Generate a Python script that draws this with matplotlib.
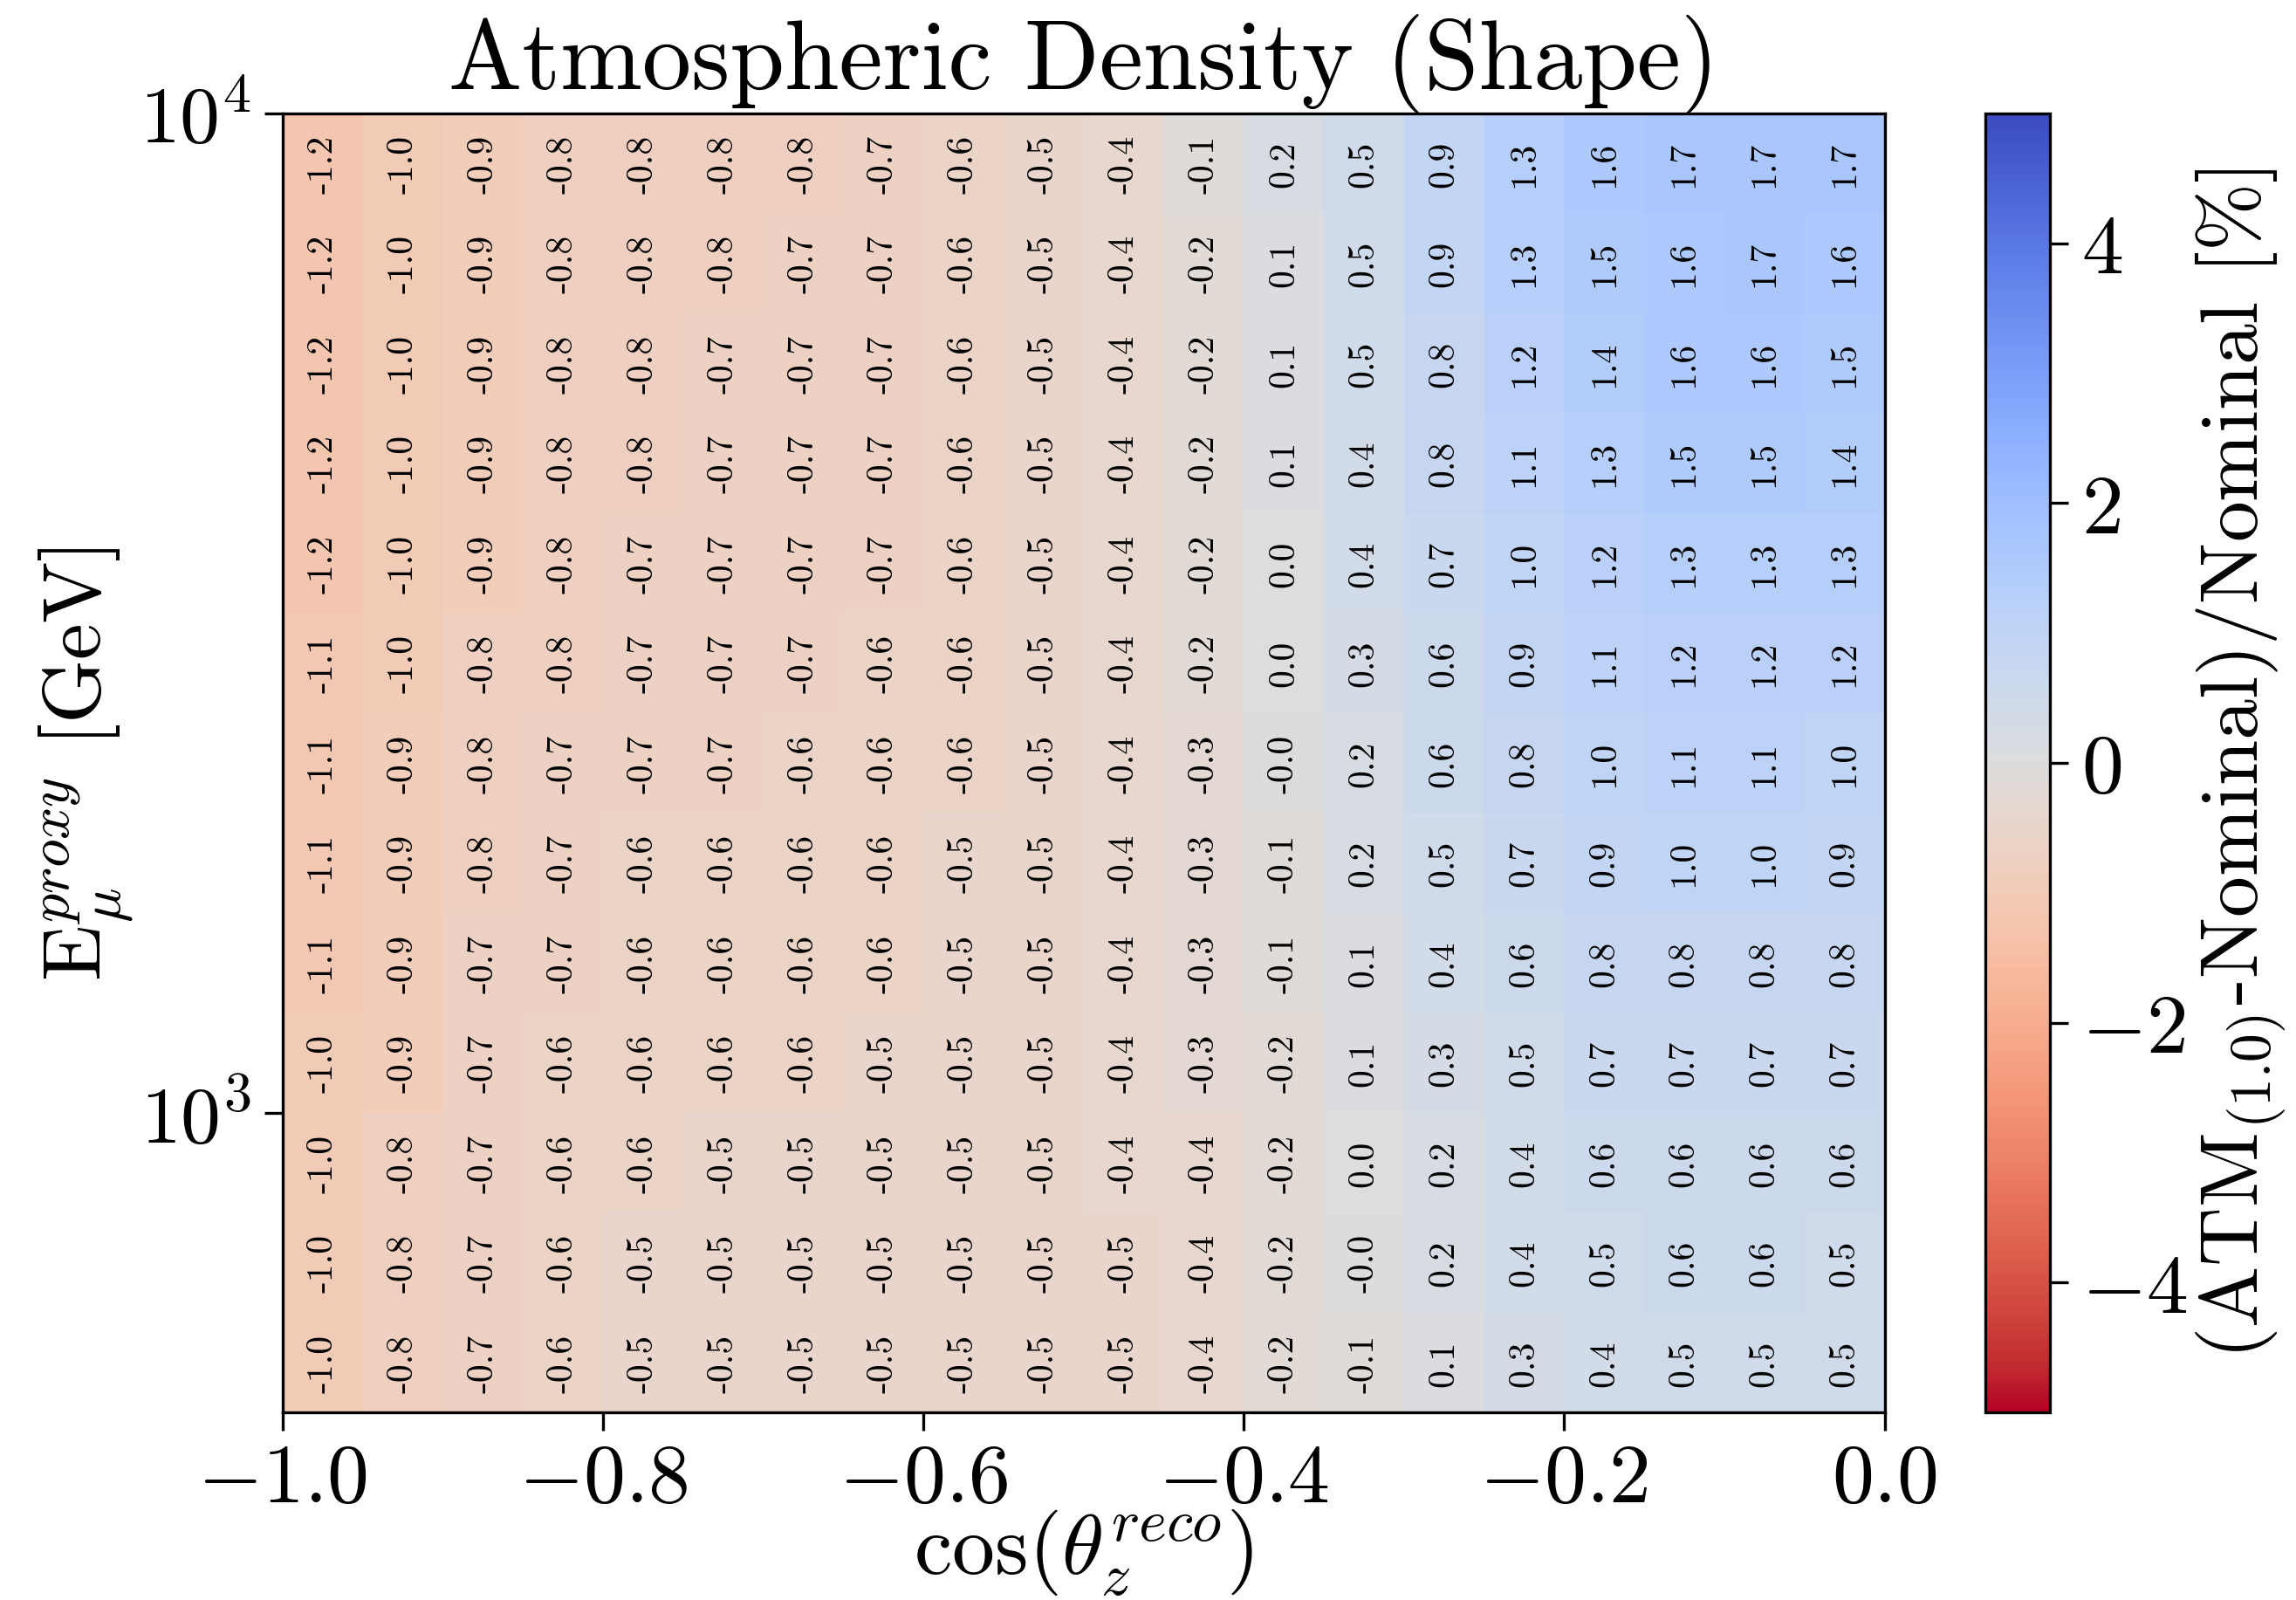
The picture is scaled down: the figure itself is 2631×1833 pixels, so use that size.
import numpy as np
import matplotlib
matplotlib.use("Agg")
import matplotlib.pyplot as plt
from matplotlib.ticker import LogLocator, NullLocator

plt.rcParams['font.family'] = 'serif'
plt.rcParams['font.serif'] = ['cmr10']
plt.rcParams['mathtext.fontset'] = 'cm'
plt.rcParams['axes.formatter.use_mathtext'] = True
plt.rcParams['axes.unicode_minus'] = True

# cos(theta_z^reco) bin edges and log10(E) bin edges
cos_edges = np.linspace(-1.0, 0.0, 21)
logE_edges = np.linspace(2.7, 4.0, 14)

# values in %, rows listed from highest energy (top) to lowest energy (bottom)
row_01 = [-1.2, -1.0, -0.9, -0.8, -0.8, -0.8, -0.8, -0.7, -0.6, -0.5, -0.4, -0.1, 0.2, 0.5, 0.9, 1.3, 1.6, 1.7, 1.7, 1.7]
row_02 = [-1.2, -1.0, -0.9, -0.8, -0.8, -0.8, -0.7, -0.7, -0.6, -0.5, -0.4, -0.2, 0.1, 0.5, 0.9, 1.3, 1.5, 1.6, 1.7, 1.6]
row_03 = [-1.2, -1.0, -0.9, -0.8, -0.8, -0.7, -0.7, -0.7, -0.6, -0.5, -0.4, -0.2, 0.1, 0.5, 0.8, 1.2, 1.4, 1.6, 1.6, 1.5]
row_04 = [-1.2, -1.0, -0.9, -0.8, -0.8, -0.7, -0.7, -0.7, -0.6, -0.5, -0.4, -0.2, 0.1, 0.4, 0.8, 1.1, 1.3, 1.5, 1.5, 1.4]
row_05 = [-1.2, -1.0, -0.9, -0.8, -0.7, -0.7, -0.7, -0.7, -0.6, -0.5, -0.4, -0.2, 0.0, 0.4, 0.7, 1.0, 1.2, 1.3, 1.3, 1.3]
row_06 = [-1.1, -1.0, -0.8, -0.8, -0.7, -0.7, -0.7, -0.6, -0.6, -0.5, -0.4, -0.2, 0.0, 0.3, 0.6, 0.9, 1.1, 1.2, 1.2, 1.2]
row_07 = [-1.1, -0.9, -0.8, -0.7, -0.7, -0.7, -0.6, -0.6, -0.6, -0.5, -0.4, -0.3, -0.02, 0.2, 0.6, 0.8, 1.0, 1.1, 1.1, 1.0]
row_08 = [-1.1, -0.9, -0.8, -0.7, -0.6, -0.6, -0.6, -0.6, -0.5, -0.5, -0.4, -0.3, -0.1, 0.2, 0.5, 0.7, 0.9, 1.0, 1.0, 0.9]
row_09 = [-1.1, -0.9, -0.7, -0.7, -0.6, -0.6, -0.6, -0.6, -0.5, -0.5, -0.4, -0.3, -0.1, 0.1, 0.4, 0.6, 0.8, 0.8, 0.8, 0.8]
row_10 = [-1.0, -0.9, -0.7, -0.6, -0.6, -0.6, -0.6, -0.5, -0.5, -0.5, -0.4, -0.3, -0.2, 0.1, 0.3, 0.5, 0.7, 0.7, 0.7, 0.7]
row_11 = [-1.0, -0.8, -0.7, -0.6, -0.6, -0.5, -0.5, -0.5, -0.5, -0.5, -0.4, -0.4, -0.2, 0.0, 0.2, 0.4, 0.6, 0.6, 0.6, 0.6]
row_12 = [-1.0, -0.8, -0.7, -0.6, -0.5, -0.5, -0.5, -0.5, -0.5, -0.5, -0.5, -0.4, -0.2, -0.02, 0.2, 0.4, 0.5, 0.6, 0.6, 0.5]
row_13 = [-1.0, -0.8, -0.7, -0.6, -0.5, -0.5, -0.5, -0.5, -0.5, -0.5, -0.5, -0.4, -0.2, -0.1, 0.1, 0.3, 0.4, 0.5, 0.5, 0.5]

rows_top_to_bottom = [row_01, row_02, row_03, row_04, row_05, row_06, row_07,
                      row_08, row_09, row_10, row_11, row_12, row_13]
Z = np.array(rows_top_to_bottom[::-1])  # bottom (low E) first

E_edges = 10 ** logE_edges

fig = plt.figure(figsize=(8.77, 6.1133), dpi=300)
ax = fig.add_axes([0.1231, 0.1171, 0.8208 - 0.1231, 0.9286 - 0.1171])
cax = fig.add_axes([0.8648, 0.1171, 0.8929 - 0.8648, 0.9286 - 0.1171])

mesh = ax.pcolormesh(cos_edges, E_edges, Z, cmap='coolwarm_r', vmin=-5, vmax=5)
ax.set_yscale('log')
ax.set_xlim(-1.0, 0.0)
ax.set_ylim(E_edges[0], E_edges[-1])

xc = 0.5 * (cos_edges[:-1] + cos_edges[1:])
yc = 10 ** (0.5 * (logE_edges[:-1] + logE_edges[1:]))
for i, y in enumerate(yc):
    for j, x in enumerate(xc):
        ax.text(x, y, '{:.1f}'.format(Z[i, j]), rotation=90, ha='center', va='center',
                fontsize=10, color='black')

ax.yaxis.set_major_locator(LogLocator(base=10, numticks=10))
ax.yaxis.set_minor_locator(NullLocator())
ax.set_xticks([-1.0, -0.8, -0.6, -0.4, -0.2, 0.0])
ax.tick_params(axis='x', which='major', labelsize=23, length=5, width=0.8)
ax.tick_params(axis='y', which='major', labelsize=22, length=5, width=0.8)

ax.set_xlabel(r'cos($\theta_z^{reco}$)', fontsize=23.5, labelpad=-3)
ax.set_ylabel(r'E$_{\mu}^{proxy}$ [GeV]', fontsize=22.5, labelpad=1)
ax.set_title('Atmospheric Density (Shape)', fontsize=27, pad=4)

cb = fig.colorbar(mesh, cax=cax)
cb.set_ticks([-4, -2, 0, 2, 4])
cb.ax.tick_params(labelsize=23, length=5, width=0.8)
cb.set_label(r'(ATM$_{(1.0)}$-Nominal)/Nominal [%]', fontsize=22.5, labelpad=2)

fig.savefig('out.png', dpi=300)
